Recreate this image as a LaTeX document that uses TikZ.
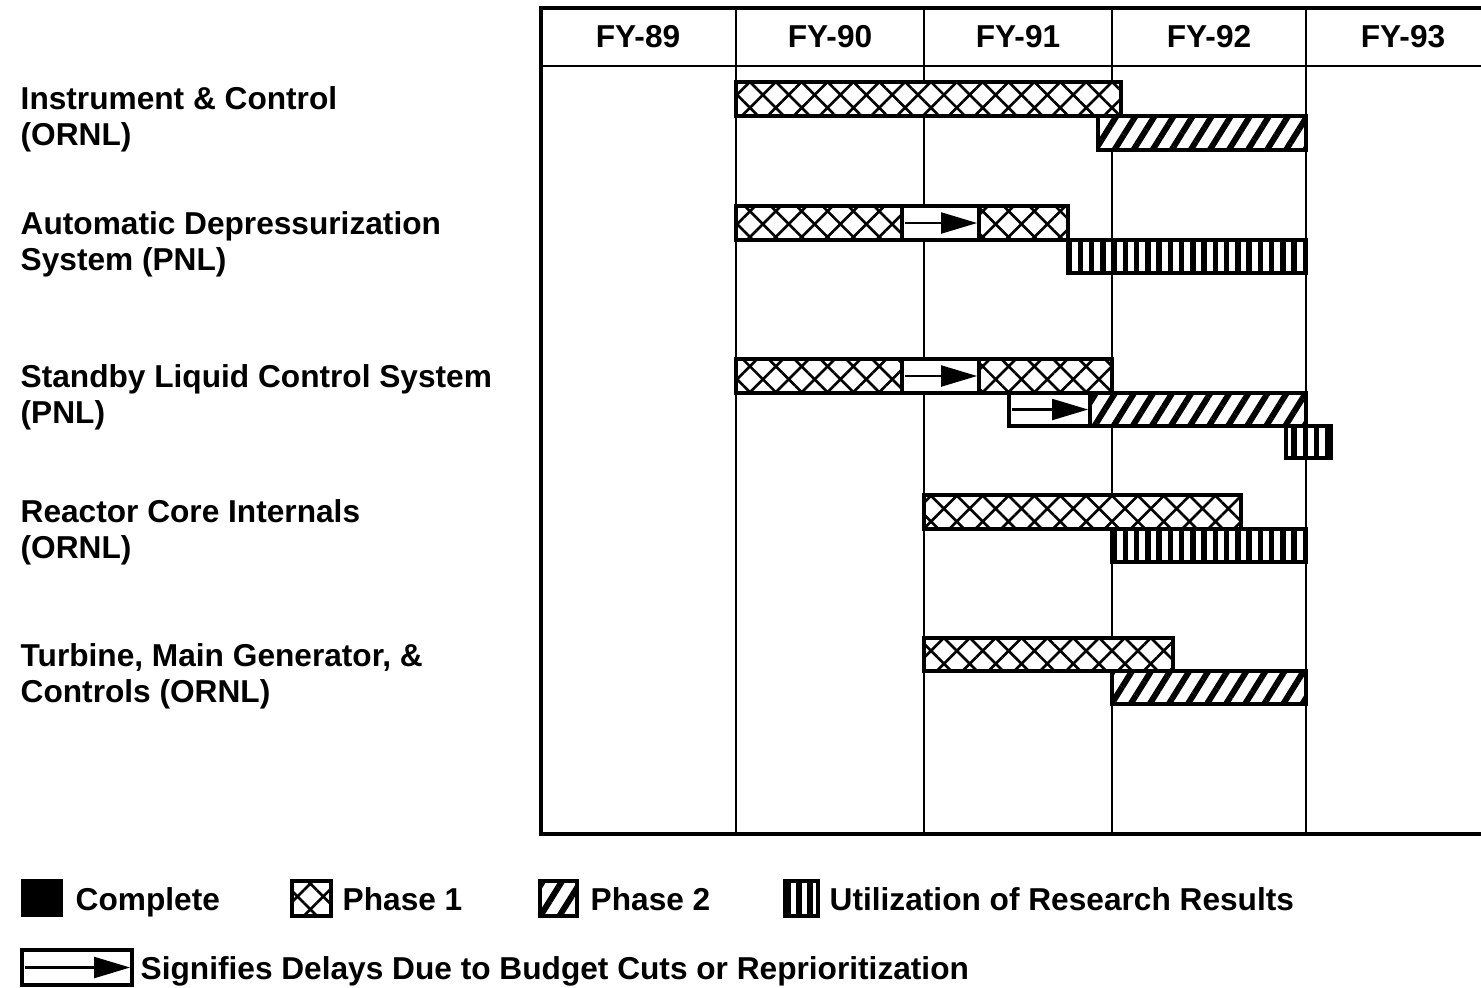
\documentclass[tikz,border=0pt]{standalone}
\usepackage{fontspec}
\setmainfont{Liberation Sans}
\usetikzlibrary{arrows.meta,patterns.meta}

\begin{document}
\begin{tikzpicture}[
          x=0.01cm, y=-0.01cm,
          lbl/.style={anchor=west, inner sep=0pt, align=left,
                      font=\bfseries\fontsize{9}{10.2}\selectfont},
          leg/.style={lbl, anchor=base west},
          hdr/.style={inner sep=0pt, font=\bfseries\fontsize{9}{10.2}\selectfont},
          frame/.style={line width=1.3pt, black},
          grid/.style={line width=0.7pt, black},
          bar/.style={draw=black, line width=0.9pt, preaction={fill=white}},
          ph1/.style={bar, pattern={Hatch[angle=45, distance=5.2pt, line width=0.75pt]}},
          ph2/.style={bar, pattern={Lines[angle=58, distance=4.6pt, line width=1.7pt]}},
          util/.style={bar, pattern={Lines[angle=90, distance=3.2pt, line width=1.6pt]}},
          done/.style={draw=black, fill=black},
          delay/.style={draw=black, line width=0.9pt, fill=white, inner sep=0pt,
                        minimum height=0.34cm},
          dlyarr/.style={-{Triangle[length=3.6mm, width=2.1mm]}, line width=0.6pt}
        ]
        \useasboundingbox (0,0) rectangle (1481,987);
        % chart frame and year columns
        \draw[grid] (541,66) -- (1481,66);
        \foreach \x in {736,924,1112,1306}
          \draw[grid] (\x,8) -- (\x,834);
        \draw[frame] (1481,8) -| (541,834) -- (1481,834);
        \foreach \yr/\cx in {89/638, 90/830, 91/1018, 92/1209, 93/1403}
          \node[hdr] (fy\yr) at (\cx,37) {FY-\yr};

        % task labels
        \node[lbl] (ic) at (20,119) {Instrument \& Control\\(ORNL)};
        \node[lbl] (ads) at (20,244) {Automatic Depressurization\\System (PNL)};
        \node[lbl] (slc) at (20,397) {Standby Liquid Control System\\(PNL)};
        \node[lbl] (rci) at (20,532) {Reactor Core Internals\\(ORNL)};
        \node[lbl] (tmg) at (20,676) {Turbine, Main Generator, \&\\Controls (ORNL)};

        % instrument & control
        \draw[ph1] (736,82) rectangle (1121,116);
        \draw[ph2] (1098,116) rectangle (1306,150);
        % automatic depressurization
        \draw[ph1] (736,206) rectangle (902,240);
        \draw[ph1] (979,206) rectangle (1068,240);
        \node[delay, minimum width=0.77cm] (d1) at (940.5,223) {};
        \draw[util] (1068,240) rectangle (1306,273);
        % standby liquid control
        \draw[ph1] (736,359) rectangle (902,393);
        \draw[ph1] (979,359) rectangle (1112,393);
        \node[delay, minimum width=0.77cm] (d2) at (940.5,376) {};
        \draw[ph2] (1090,393) rectangle (1306,426);
        \node[delay, minimum width=0.81cm, minimum height=0.33cm] (d3) at (1049.5,409.5) {};
        \draw[util] (1286,426) rectangle (1331,458);
        % reactor core internals
        \draw[ph1] (924,495) rectangle (1241,529);
        \draw[util] (1112,529) rectangle (1306,562);
        % turbine, main generator
        \draw[ph1] (924,638) rectangle (1173,671);
        \draw[ph2] (1112,671) rectangle (1306,704);

        \foreach \d in {d1,d2,d3}
          \draw[dlyarr] ([xshift=1.2pt]\d.west) -- ([xshift=-1pt]\d.east);

        % legend
        \draw[done] (22,880) rectangle (62,916);
        \node[leg] (lcomp) at (75,910) {Complete};
        \draw[ph1] (292,881) rectangle (331,916);
        \node[leg] (lph1) at (342,910) {Phase 1};
        \draw[ph2] (540,881) rectangle (577,916);
        \node[leg] (lph2) at (590,910) {Phase 2};
        \draw[util] (785,881) rectangle (818,916);
        \node[leg] (lutil) at (829,910) {Utilization of Research Results};
        \node[delay, minimum width=1.1cm, minimum height=0.35cm] (ldly) at (77,967.5) {};
        \draw[dlyarr] ([xshift=1.2pt]ldly.west) -- ([xshift=-1pt]ldly.east);
        \node[leg] (ldtxt) at (140,979) {Signifies Delays Due to Budget Cuts or Reprioritization};
      \end{tikzpicture}
\end{document}
